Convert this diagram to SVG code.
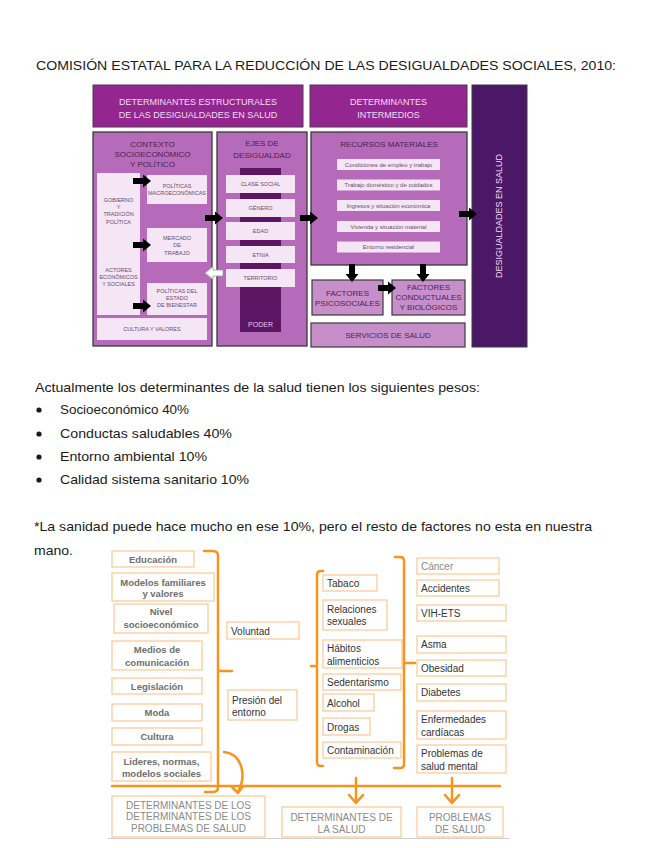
<svg xmlns="http://www.w3.org/2000/svg" xmlns:xlink="http://www.w3.org/1999/xlink" width="656" height="848" viewBox="0 0 656 848">
<style>
text{font-family:"Liberation Sans",Arial,sans-serif}
.pg{font-size:13px;fill:#1a1a1a}
.hd{fill:#93278f;stroke:#4a3a4a;stroke-width:1}
.hdt{font-size:9px;fill:#f4dcf3;text-anchor:middle}
.pn{fill:#b56bb9;stroke:#3a3a3a;stroke-width:1.3}
.pn2{fill:#c78fca;stroke:#3a3a3a;stroke-width:1.2}
.pt{font-size:8px;fill:#4b1f50;text-anchor:middle}
.lb{fill:#f5e6f5}
.lt{font-size:5.5px;fill:#6b4a6b;text-anchor:middle}
.rt{font-size:6px;fill:#6b4a6b;text-anchor:middle}
.ob{fill:#fff;stroke:#fbd2a8;stroke-width:1.5}
.bt{font-size:9.5px;font-weight:bold;fill:#6e6e6e;text-anchor:middle}
.mt{font-size:10px;fill:#333}
.gt{font-size:10px;fill:#8a8a8a;text-anchor:middle}
.br{fill:none;stroke:#f7941d;stroke-width:2.5;stroke-linecap:round;stroke-linejoin:round}
</style>
<defs>
<path id="ar" d="M0,-3 H10 V-6.5 L18,0 L10,6.5 V3 H0 Z"/>
</defs>
<rect width="656" height="848" fill="#fff"/>

<text class="pg" x="36" y="70" textLength="580" lengthAdjust="spacingAndGlyphs">COMISIÓN ESTATAL PARA LA REDUCCIÓN DE LAS DESIGUALDADES SOCIALES, 2010:</text>

<g id="hdr-estructurales">
<rect class="hd" x="93" y="85" width="210" height="42"/>
<text class="hdt" x="198" y="105">DETERMINANTES ESTRUCTURALES</text>
<text class="hdt" x="198" y="118">DE LAS DESIGUALDADES EN SALUD</text>
</g>
<g id="hdr-intermedios">
<rect class="hd" x="310" y="85" width="157" height="42"/>
<text class="hdt" x="388.5" y="105">DETERMINANTES</text>
<text class="hdt" x="388.5" y="118">INTERMEDIOS</text>
</g>
<g id="desigualdades">
<rect x="472" y="85" width="55" height="262" fill="#4a1867" stroke="#3a3a3a" stroke-width="1"/>
<text class="hdt" transform="translate(502,216) rotate(-90)">DESIGUALDADES EN SALUD</text>
</g>

<g id="contexto">
<rect class="pn" x="93" y="132" width="119" height="214"/>
<text class="pt" x="152.5" y="147">CONTEXTO</text>
<text class="pt" x="152.5" y="157">SOCIOECONÓMICO</text>
<text class="pt" x="152.5" y="167">Y POLÍTICO</text>
<rect class="lb" x="97" y="173" width="43" height="142"/>
<text class="lt" x="118.5" y="202">GOBIERNO</text>
<text class="lt" x="118.5" y="209">Y</text>
<text class="lt" x="118.5" y="216">TRADICIÓN</text>
<text class="lt" x="118.5" y="224">POLÍTICA</text>
<text class="lt" x="118.5" y="272">ACTORES</text>
<text class="lt" x="118.5" y="279">ECONÓMICOS</text>
<text class="lt" x="118.5" y="286">Y SOCIALES</text>
</g>
<g id="politicas-macro">
<rect class="lb" x="147" y="175" width="60" height="29"/>
<text class="lt" x="177" y="188">POLÍTICAS</text>
<text class="lt" x="177" y="195">MACROECONÓMICAS</text>
</g>
<g id="mercado">
<rect class="lb" x="147" y="228" width="60" height="34"/>
<text class="lt" x="177" y="240">MERCADO</text>
<text class="lt" x="177" y="247">DE</text>
<text class="lt" x="177" y="255">TRABAJO</text>
</g>
<g id="politicas-estado">
<rect class="lb" x="147" y="283" width="60" height="32"/>
<text class="lt" x="177" y="293">POLÍTICAS DEL</text>
<text class="lt" x="177" y="300">ESTADO</text>
<text class="lt" x="177" y="307">DE BIENESTAR</text>
</g>
<g id="cultura-valores">
<rect class="lb" x="97" y="318" width="110" height="22"/>
<text class="lt" x="152" y="331">CULTURA Y VALORES</text>
</g>

<g id="ejes">
<rect class="pn" x="217" y="132" width="90" height="214"/>
<text class="pt" x="262" y="146">EJES DE</text>
<text class="pt" x="262" y="158">DESIGUALDAD</text>
<rect x="240" y="168" width="41" height="164" fill="#5c1563"/>
<rect class="lb" x="226" y="175" width="69" height="18"/>
<text class="lt" x="260.5" y="186">CLASE SOCIAL</text>
<rect class="lb" x="226" y="199" width="69" height="18"/>
<text class="lt" x="260.5" y="210">GÉNERO</text>
<rect class="lb" x="226" y="222" width="69" height="18"/>
<text class="lt" x="260.5" y="233">EDAD</text>
<rect class="lb" x="226" y="246" width="69" height="17"/>
<text class="lt" x="260.5" y="256.5">ETNIA</text>
<rect class="lb" x="226" y="269" width="69" height="18"/>
<text class="lt" x="260.5" y="280">TERRITORIO</text>
<text x="260.5" y="327" font-size="7px" fill="#e8c6ea" text-anchor="middle">PODER</text>
</g>

<g id="recursos">
<rect class="pn" x="311" y="132" width="156" height="133"/>
<text class="pt" x="389" y="147" font-size="7.5px">RECURSOS MATERIALES</text>
<rect class="lb" x="337" y="159" width="103" height="11"/>
<text class="rt" x="388.5" y="166.5">Condiciones de empleo y trabajo</text>
<rect class="lb" x="337" y="179.5" width="103" height="11"/>
<text class="rt" x="388.5" y="187">Trabajo doméstico y de cuidados</text>
<rect class="lb" x="337" y="200" width="103" height="11"/>
<text class="rt" x="388.5" y="207.5">Ingresos y situación económica</text>
<rect class="lb" x="337" y="221" width="103" height="11"/>
<text class="rt" x="388.5" y="228.5">Vivienda y situación material</text>
<rect class="lb" x="337" y="241.5" width="103" height="11"/>
<text class="rt" x="388.5" y="249">Entorno residencial</text>
</g>
<g id="psicosociales">
<rect class="pn2" x="312" y="280" width="71" height="35"/>
<text class="pt" x="347.5" y="295.5" font-size="6.5px">FACTORES</text>
<text class="pt" x="347.5" y="305.5" font-size="6.5px">PSICOSOCIALES</text>
</g>
<g id="conductuales">
<rect class="pn2" x="392" y="280" width="73" height="35"/>
<text class="pt" x="428.5" y="289.5" font-size="6.5px">FACTORES</text>
<text class="pt" x="428.5" y="299.5" font-size="6.5px">CONDUCTUALES</text>
<text class="pt" x="428.5" y="309.5" font-size="6.5px">Y BIOLÓGICOS</text>
</g>
<g id="servicios">
<rect class="pn2" x="311" y="323" width="154" height="24"/>
<text class="pt" x="388" y="338" font-size="6.5px">SERVICIOS DE SALUD</text>
</g>

<g id="connectors-top" fill="#000">
<use xlink:href="#ar" transform="translate(133,181)"/>
<use xlink:href="#ar" transform="translate(133,245)"/>
<use xlink:href="#ar" transform="translate(133,306)"/>
<use xlink:href="#ar" transform="translate(205,218)"/>
<use xlink:href="#ar" transform="translate(300,218)"/>
<use xlink:href="#ar" transform="translate(459,214)"/>
<use xlink:href="#ar" transform="translate(352,264) rotate(90)"/>
<use xlink:href="#ar" transform="translate(423,264) rotate(90)"/>
<use xlink:href="#ar" transform="translate(378,288)"/>
<use xlink:href="#ar" transform="translate(223,273) scale(-1,1)" fill="#fff" stroke="#999" stroke-width="0.8"/>
</g>

<text class="pg" x="35" y="392" textLength="445" lengthAdjust="spacingAndGlyphs">Actualmente los determinantes de la salud tienen los siguientes pesos:</text>
<circle cx="39" cy="410" r="2.6" fill="#1a1a1a"/>
<text class="pg" x="60" y="414" textLength="129" lengthAdjust="spacingAndGlyphs">Socioeconómico 40%</text>
<circle cx="39" cy="434" r="2.6" fill="#1a1a1a"/>
<text class="pg" x="60" y="438" textLength="172" lengthAdjust="spacingAndGlyphs">Conductas saludables 40%</text>
<circle cx="39" cy="457" r="2.6" fill="#1a1a1a"/>
<text class="pg" x="60" y="461" textLength="147" lengthAdjust="spacingAndGlyphs">Entorno ambiental 10%</text>
<circle cx="39" cy="480" r="2.6" fill="#1a1a1a"/>
<text class="pg" x="60" y="484" textLength="189" lengthAdjust="spacingAndGlyphs">Calidad sistema sanitario 10%</text>
<text class="pg" x="34" y="531" textLength="558" lengthAdjust="spacingAndGlyphs">*La sanidad puede hace mucho en ese 10%, pero el resto de factores no esta en nuestra</text>
<text class="pg" x="34" y="555" textLength="39" lengthAdjust="spacingAndGlyphs">mano.</text>

<g id="educacion"><rect class="ob" x="112" y="551" width="82" height="16"/><text class="bt" x="153" y="562.5">Educación</text></g>
<g id="modelos-familiares"><rect class="ob" x="112" y="573" width="102" height="28"/><text class="bt" x="163" y="585.5">Modelos familiares</text><text class="bt" x="163" y="597">y valores</text></g>
<g id="nivel-socio"><rect class="ob" x="114" y="604" width="94" height="29"/><text class="bt" x="161" y="614.5">Nivel</text><text class="bt" x="161" y="627.5">socioeconómico</text></g>
<g id="medios"><rect class="ob" x="112" y="641" width="90" height="29"/><text class="bt" x="157" y="652.5">Medios de</text><text class="bt" x="157" y="665.5">comunicación</text></g>
<g id="legislacion"><rect class="ob" x="112" y="678" width="90" height="16"/><text class="bt" x="157" y="689.5">Legislación</text></g>
<g id="moda"><rect class="ob" x="112" y="704" width="90" height="17"/><text class="bt" x="157" y="716">Moda</text></g>
<g id="cultura"><rect class="ob" x="112" y="728" width="90" height="17"/><text class="bt" x="157" y="740">Cultura</text></g>
<g id="lideres"><rect class="ob" x="112" y="752" width="99" height="29"/><text class="bt" x="161.5" y="764.5">Lideres, normas,</text><text class="bt" x="161.5" y="777">modelos sociales</text></g>

<g id="voluntad"><rect class="ob" x="227" y="622" width="72" height="17"/><text class="mt" x="231" y="634.5">Voluntad</text></g>
<g id="presion"><rect class="ob" x="228" y="690" width="69" height="30"/><text class="mt" x="232" y="703.5">Presión del</text><text class="mt" x="232" y="716">entorno</text></g>

<g id="tabaco"><rect class="ob" x="323" y="575" width="54" height="16"/><text class="mt" x="327" y="586.5">Tabaco</text></g>
<g id="relaciones"><rect class="ob" x="323" y="600" width="64" height="30"/><text class="mt" x="327" y="612.5">Relaciones</text><text class="mt" x="327" y="624.5">sexuales</text></g>
<g id="habitos"><rect class="ob" x="323" y="640" width="79" height="28"/><text class="mt" x="327" y="651.5">Hábitos</text><text class="mt" x="327" y="664.5">alimenticios</text></g>
<g id="sedentarismo"><rect class="ob" x="323" y="674" width="78" height="16"/><text class="mt" x="327" y="686">Sedentarismo</text></g>
<g id="alcohol"><rect class="ob" x="323" y="694" width="51" height="17"/><text class="mt" x="327" y="706.5">Alcohol</text></g>
<g id="drogas"><rect class="ob" x="323" y="718" width="47" height="17"/><text class="mt" x="327" y="730.5">Drogas</text></g>
<g id="contaminacion"><rect class="ob" x="323" y="742" width="78" height="16"/><text class="mt" x="327" y="754">Contaminación</text></g>

<g id="cancer"><rect class="ob" x="417" y="558" width="82" height="16"/><text class="mt" x="421" y="569.5" fill="#8a8a8a" style="fill:#8a8a8a">Cáncer</text></g>
<g id="accidentes"><rect class="ob" x="417" y="580" width="82" height="16"/><text class="mt" x="421" y="591.5">Accidentes</text></g>
<g id="vih"><rect class="ob" x="417" y="605" width="89" height="16"/><text class="mt" x="421" y="616.5">VIH-ETS</text></g>
<g id="asma"><rect class="ob" x="417" y="636" width="89" height="17"/><text class="mt" x="421" y="648">Asma</text></g>
<g id="obesidad"><rect class="ob" x="417" y="660" width="89" height="16"/><text class="mt" x="421" y="671.5">Obesidad</text></g>
<g id="diabetes"><rect class="ob" x="417" y="684" width="89" height="17"/><text class="mt" x="421" y="696">Diabetes</text></g>
<g id="cardiacas"><rect class="ob" x="417" y="711" width="89" height="28"/><text class="mt" x="421" y="722.5">Enfermedades</text><text class="mt" x="421" y="735.5">cardíacas</text></g>
<g id="mental"><rect class="ob" x="417" y="745" width="89" height="28"/><text class="mt" x="421" y="756.5">Problemas de</text><text class="mt" x="421" y="769.5">salud mental</text></g>

<g id="det-det"><rect class="ob" x="112" y="796" width="153" height="41"/><text class="gt" x="188.5" y="808.5">DETERMINANTES DE LOS</text><text class="gt" x="188.5" y="820">DETERMINANTES DE LOS</text><text class="gt" x="188.5" y="831.5">PROBLEMAS DE SALUD</text></g>
<g id="det-salud"><rect class="ob" x="282" y="807" width="119" height="30"/><text class="gt" x="341.5" y="820.5">DETERMINANTES DE</text><text class="gt" x="341.5" y="832.5">LA SALUD</text></g>
<g id="problemas"><rect class="ob" x="417" y="807" width="86" height="30"/><text class="gt" x="460" y="820.5">PROBLEMAS</text><text class="gt" x="460" y="832.5">DE SALUD</text></g>

<g id="connectors-bottom">
<path class="br" d="M204,551 H213 Q218,551 218,556 V787 Q218,792 213,792 H205 M218,671 H232"/>
<path class="br" d="M323,571 H321 Q317,571 317,575 V762 Q317,766 321,766 H323 M317,666 H311"/>
<path class="br" d="M395,557 H400 Q404,557 404,561 V764 Q404,768 400,768 H394 M404,663 H415"/>
<path class="br" d="M112,786 H500"/>
<path class="br" d="M356,778 V802 M349,795 L356,803 L363,795"/>
<path class="br" d="M452,778 V802 M445,795 L452,803 L459,795"/>
<path class="br" d="M224,752 C242,754 247,775 238,792 M232,787 L238,793 L243,786"/>
</g>
<line x1="108" y1="838.5" x2="510" y2="838.5" stroke="#d0d0d0" stroke-width="1"/>
</svg>
